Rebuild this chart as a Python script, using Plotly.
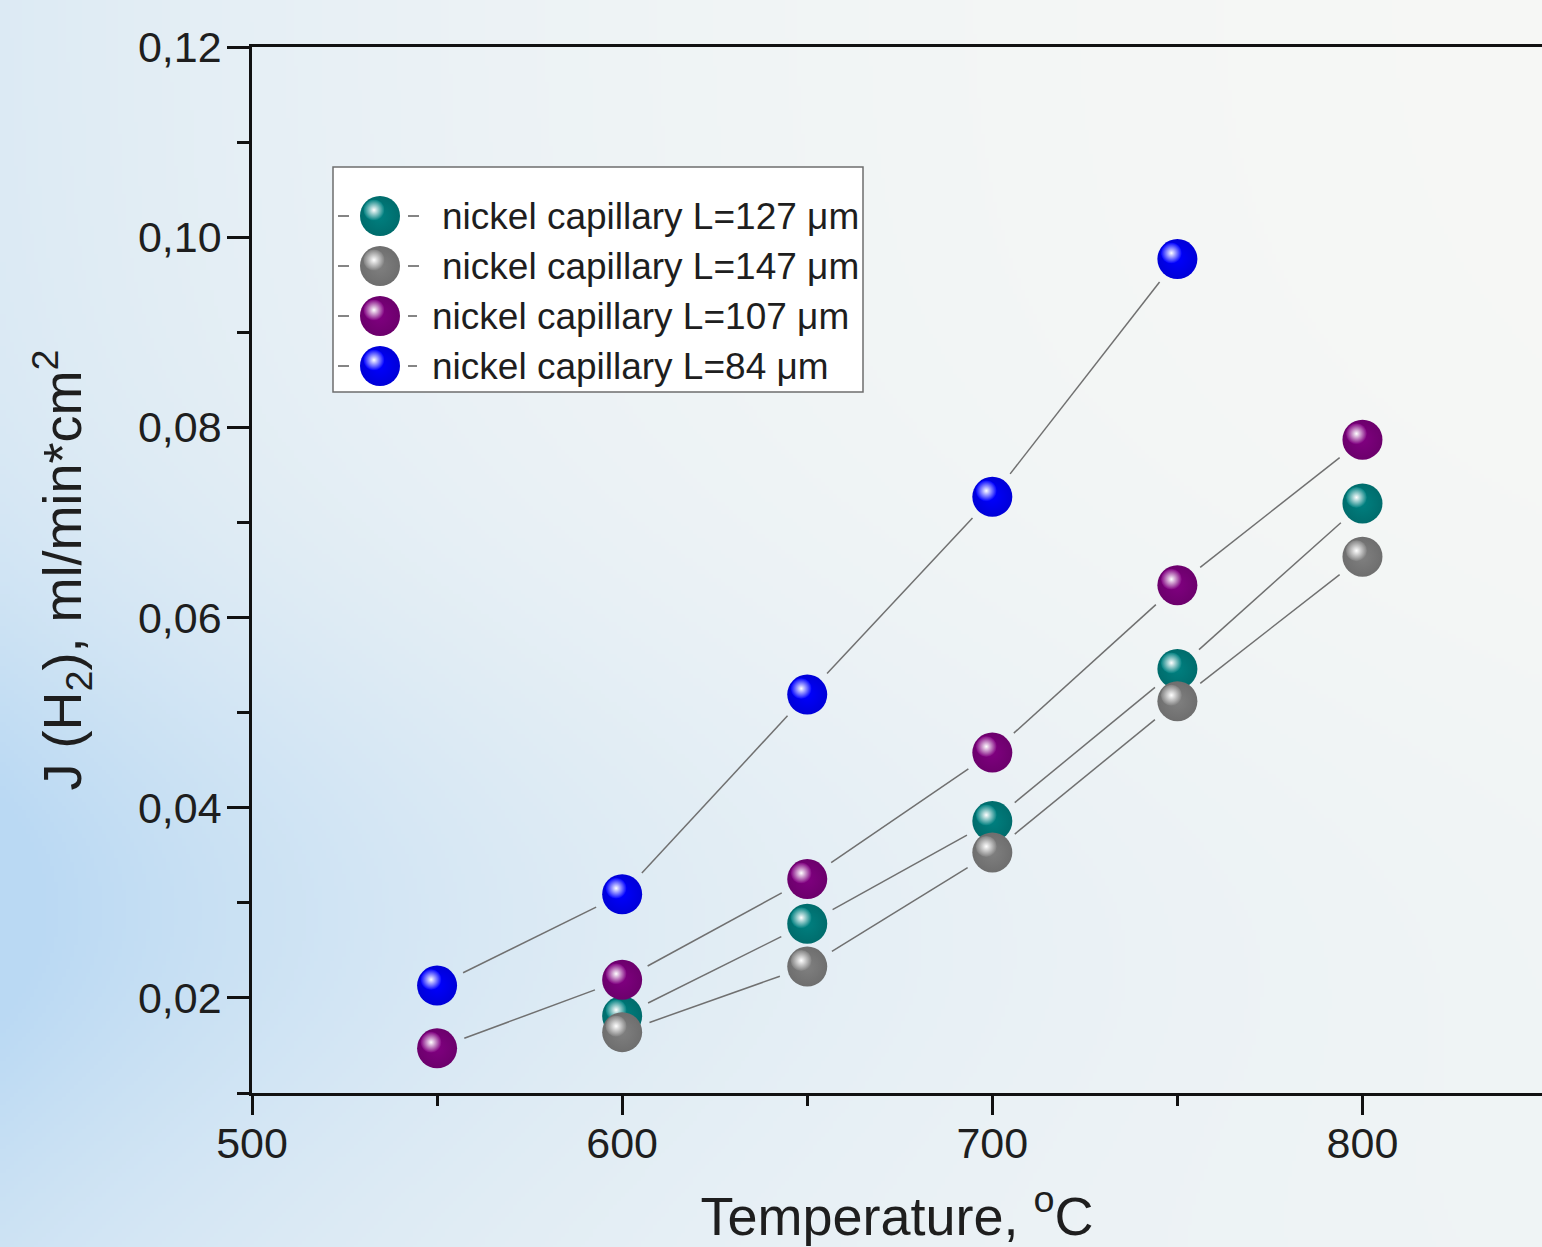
import math, zlib, struct, base64
import numpy as np
import plotly.graph_objects as go

# ---------------- data ----------------
t_127 = [600, 650, 700, 750, 800]
j_127 = [0.0181, 0.0278, 0.0386, 0.0546, 0.0720]
t_147 = [600, 650, 700, 750, 800]
j_147 = [0.0164, 0.0233, 0.0353, 0.0512, 0.0664]
t_107 = [550, 600, 650, 700, 750, 800]
j_107 = [0.0147, 0.0219, 0.0325, 0.0458, 0.0634, 0.0787]
t_84 = [550, 600, 650, 700, 750]
j_84 = [0.0213, 0.0309, 0.0519, 0.0727, 0.0977]

series_names = ["nickel capillary L=127 μm", "nickel capillary L=147 μm",
                "nickel capillary L=107 μm", "nickel capillary L=84 μm"]
x_tick_vals = [500, 600, 700, 800]
y_tick_vals = [0.02, 0.04, 0.06, 0.08, 0.10, 0.12]

# ---------------- style ----------------
W, H = 1542, 1247
ML, MR, MT, MB = 252, 0, 47, 154
PW, PH = W - ML - MR, H - MT - MB
X_LO, X_HI = 500, 848.5
Y_LO, Y_HI = 0.01, 0.12
FONT = "Liberation Sans, Arial, sans-serif"
colors = ["#008080", "#808080", "#800080", "#0000ff"]
edge_colors = ["#006c6c", "#6e6e6e", "#6c006c", "#0000d8"]
series = [(t_127, j_127), (t_147, j_147), (t_107, j_107), (t_84, j_84)]
px_x = PW / (X_HI - X_LO)
px_y = PH / (Y_HI - Y_LO)
HL_DX, HL_DY = -6, -6   # highlight offset in pixels
HL_SIZE = 21

# ---------------- background gradient image ----------------
bw, bh = 386, 312
xs = np.linspace(0, W, bw)[None, :]
ys = np.linspace(0, H, bh)[:, None]
w = np.exp(-xs / 620.0) * (0.45 + 0.55 * np.exp(-((ys - 900) / 300.0) ** 2)) + 0.10 * (ys / H) ** 2
w = np.clip(w, 0, 1)
c0 = np.array([249, 249, 246], float)
c1 = np.array([186, 217, 243], float)
img = (c0[None, None, :] + w[:, :, None] * (c1 - c0)[None, None, :]).astype(np.uint8)
raw = b"".join(b"\x00" + img[r].tobytes() for r in range(bh))
def _chunk(t, d):
    return struct.pack(">I", len(d)) + t + d + struct.pack(">I", zlib.crc32(t + d) & 0xffffffff)
png = (b"\x89PNG\r\n\x1a\n" + _chunk(b"IHDR", struct.pack(">IIBBBBB", bw, bh, 8, 2, 0, 0, 0))
       + _chunk(b"IDAT", zlib.compress(raw, 9)) + _chunk(b"IEND", b""))
bg_uri = "data:image/png;base64," + base64.b64encode(png).decode()

fig = go.Figure()

# ---------------- connecting lines with gaps ----------------
def gapped(xv, yv, gap=29):
    gx, gy = [], []
    for i in range(len(xv) - 1):
        dx = (xv[i + 1] - xv[i]) * px_x
        dy = (yv[i + 1] - yv[i]) * px_y
        L = math.hypot(dx, dy)
        f = gap / L
        gx += [xv[i] + f * (xv[i + 1] - xv[i]), xv[i + 1] - f * (xv[i + 1] - xv[i]), None]
        gy += [yv[i] + f * (yv[i + 1] - yv[i]), yv[i + 1] - f * (yv[i + 1] - yv[i]), None]
    return gx, gy

for (tx, jy) in series:
    gx, gy = gapped(tx, jy)
    fig.add_trace(go.Scatter(x=gx, y=gy, mode="lines", line=dict(color="#707070", width=1.5),
                             showlegend=False, hoverinfo="skip"))

# ---------------- spheres (one overlay per layer) ----------------
layout_axes = {}
ax = 2
for k, (tx, jy) in enumerate(series):
    fig.add_trace(go.Scatter(x=tx, y=jy, mode="markers", xaxis=f"x{ax}", yaxis=f"y{ax}",
                             name=series_names[k], showlegend=False,
                             marker=dict(size=40, color=edge_colors[k], line=dict(width=0),
                                         gradient=dict(type="radial", color=colors[k]))))
    layout_axes[f"xaxis{ax}"] = dict(overlaying="x", range=[X_LO, X_HI], visible=False)
    layout_axes[f"yaxis{ax}"] = dict(overlaying="y", range=[Y_LO, Y_HI], visible=False)
    ax += 1
    fig.add_trace(go.Scatter(x=tx, y=jy, mode="markers", xaxis=f"x{ax}", yaxis=f"y{ax}",
                             showlegend=False, hoverinfo="skip",
                             marker=dict(size=HL_SIZE, color=colors[k], line=dict(width=0),
                                         gradient=dict(type="radial", color="#ffffff"))))
    sx = -HL_DX / px_x
    sy = -HL_DY / px_y
    layout_axes[f"xaxis{ax}"] = dict(overlaying="x", range=[X_LO + sx, X_HI + sx], visible=False)
    layout_axes[f"yaxis{ax}"] = dict(overlaying="y", range=[Y_LO - sy, Y_HI - sy], visible=False)
    ax += 1

# ---------------- custom legend (pixel-unit overlay axes) ----------------
LAX = ax
layout_axes[f"xaxis{LAX}"] = dict(overlaying="x", range=[ML, W - MR], visible=False)
layout_axes[f"yaxis{LAX}"] = dict(overlaying="y", range=[MT + PH, MT], visible=False)
leg_x = 380
leg_y = [216, 266, 316, 366]
text_x = [440, 440, 430, 430]
fig.add_trace(go.Scatter(x=[leg_x] * 4, y=leg_y, mode="markers", xaxis=f"x{LAX}", yaxis=f"y{LAX}",
                         showlegend=False, hoverinfo="skip",
                         marker=dict(size=40, color=edge_colors, line=dict(width=0),
                                     gradient=dict(type="radial", color=colors))))
fig.add_trace(go.Scatter(x=[leg_x + HL_DX] * 4, y=[v + HL_DY for v in leg_y], mode="markers",
                         xaxis=f"x{LAX}", yaxis=f"y{LAX}", showlegend=False, hoverinfo="skip",
                         marker=dict(size=HL_SIZE, color=colors, line=dict(width=0),
                                     gradient=dict(type="radial", color="#ffffff"))))

shapes = [dict(type="rect", xref=f"x{LAX}", yref=f"y{LAX}", x0=333, x1=863, y0=167, y1=392,
               line=dict(color="#6e6e6e", width=1.5), fillcolor="#ffffff", layer="below")]
annotations = []
for k in range(4):
    shapes.append(dict(type="line", xref=f"x{LAX}", yref=f"y{LAX}", x0=338, x1=349,
                       y0=leg_y[k], y1=leg_y[k], line=dict(color="#666666", width=1.6)))
    shapes.append(dict(type="line", xref=f"x{LAX}", yref=f"y{LAX}", x0=408, x1=419 if k < 2 else 417,
                       y0=leg_y[k], y1=leg_y[k], line=dict(color="#666666", width=1.6)))
    annotations.append(dict(xref=f"x{LAX}", yref=f"y{LAX}", x=text_x[k], y=leg_y[k],
                            text=series_names[k], showarrow=False, xanchor="left", yanchor="middle",
                            font=dict(family=FONT, size=37, color="#1e1e1e")))

fig.update_layout(
    width=W, height=H,
    margin=dict(l=ML, r=MR, t=MT, b=MB, pad=0),
    paper_bgcolor="rgba(0,0,0,0)", plot_bgcolor="rgba(0,0,0,0)",
    separators=",.",
    showlegend=False,
    font=dict(family=FONT, color="#1e1e1e"),
    images=[dict(source=bg_uri, xref="paper", yref="paper", x=-ML / PW, y=1 + MT / PH,
                 sizex=W / PW, sizey=H / PH, sizing="stretch", xanchor="left", yanchor="top",
                 layer="below")],
    xaxis=dict(range=[X_LO, X_HI], tickvals=x_tick_vals, ticktext=[str(v) for v in x_tick_vals],
               ticks="outside", ticklen=19, tickwidth=2.5, tickcolor="#111",
               minor=dict(dtick=50, tick0=500, ticks="outside", ticklen=10, tickwidth=2.5, tickcolor="#111"),
               showline=True, linecolor="#111", linewidth=2.5, mirror=True,
               showgrid=False, zeroline=False, ticklabelstandoff=-8,
               tickfont=dict(family=FONT, size=43, color="#1e1e1e"),
               title=dict(text="Temperature, <sup>o</sup>C", font=dict(family=FONT, size=54, color="#1e1e1e"),
                          standoff=31)),
    yaxis=dict(range=[Y_LO, Y_HI], tickvals=y_tick_vals, tickformat=".2f",
               ticks="outside", ticklen=22, tickwidth=2.5, tickcolor="#111",
               minor=dict(dtick=0.01, tick0=0, ticks="outside", ticklen=12, tickwidth=2.5, tickcolor="#111"),
               showline=True, linecolor="#111", linewidth=2.5, mirror=False,
               showgrid=False, zeroline=False, ticklabelstandoff=-3,
               tickfont=dict(family=FONT, size=43, color="#1e1e1e"),
               title=dict(text="J (H<sub>2</sub>), ml/min*cm<sup>2</sup>",
                          font=dict(family=FONT, size=54, color="#1e1e1e"), standoff=40)),
    shapes=shapes,
    annotations=annotations,
    **layout_axes,
)

fig.write_html("out.html")
